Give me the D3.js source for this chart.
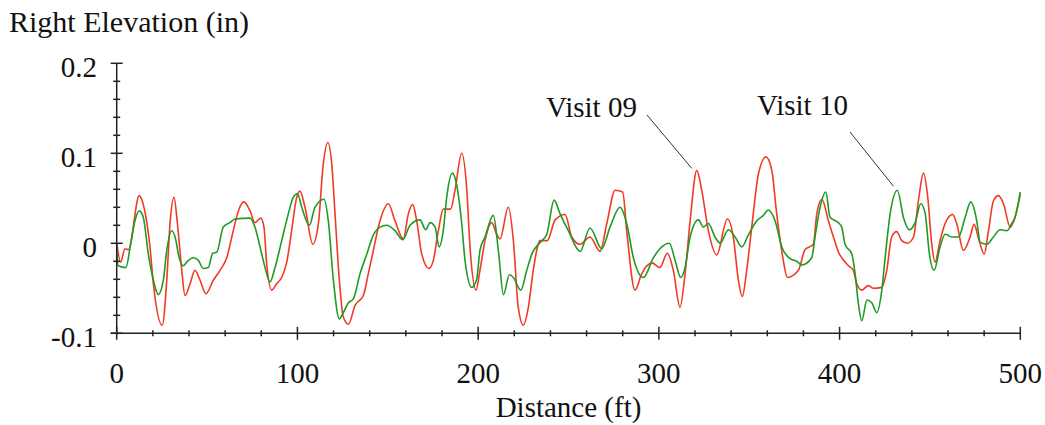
<!DOCTYPE html>
<html><head><meta charset="utf-8">
<script src="https://cdn.jsdelivr.net/npm/d3@7"></script>
<style>body{margin:0;background:#fff}svg{display:block}text{font-family:"Liberation Serif","Times New Roman",serif;fill:#111}</style>
</head><body><svg id="c" width="1045" height="425"></svg>
<script>
const xTicks = [0,100,200,300,400,500];
const yTicks = [-0.1,0,0.1,0.2];
const yTickLabels = ["-0.1","0","0.1","0.2"];
const seriesNames = ["Visit 09","Visit 10"];

const visit09Dist = [0,2.2,4.6,6.5,12.5,14.3,18.4,20.3,25.2,27.7,29.5,31.7,33.6,36,37.8,40.6,43.3,46.1,49.4,53.5,57.2,60.9,64.5,67.3,70.4,73.8,76.5,79.7,81.5,83,85.8,88.5,91.3,94.1,96.8,99.6,101.4,104.2,108.5,111.6,114.3,116.8,119,120.8,123.2,125.4,128.2,131.9,136.5,139.2,142,145.7,150.3,154,158.6,161.4,163.8,166,168.8,172.8,175.2,178,180.7,184.8,187.2,190.9,193.7,195.5,198.8,201,203.8,207.5,210.3,212.1,216.7,219.5,222.2,225,227.8,230.5,234.3,238.3,242.6,248.1,251.8,256.4,261.9,267.5,271.2,275.8,280,282.2,286.8,290.5,293.3,296.4,300.5,304.7,308,311.7,314.5,317.3,321,323.7,327.4,332,337.9,341.2,344,346.2,348.6,351.4,355.1,359.3,362.5,365.2,368.6,371.1,377.2,380.9,385.5,387.4,390.2,393.8,396.6,399.9,401.2,404.9,407.6,409.5,412.3,415.9,418.7,423.3,426.1,428.8,431.6,434.4,437.5,440.9,443.6,446.4,448.8,451,452.8,455.6,458.4,462.6,464.8,468.5,472.2,474.4,477.2,480,482.4,485.1,487.9,490.7,494.4,497.1,500];
const visit09Elev = [0.001,-0.021,-0.006,-0.007,0.053,0.046,-0.004,-0.045,-0.091,-0.041,0.022,0.051,0.022,-0.030,-0.058,-0.045,-0.030,-0.041,-0.056,-0.041,-0.030,-0.016,0.014,0.036,0.046,0.036,0.023,0.028,0.018,-0.023,-0.052,-0.045,-0.038,-0.021,0.014,0.051,0.058,0.040,-0.001,0.022,0.088,0.112,0.088,0.033,-0.041,-0.082,-0.090,-0.069,-0.058,-0.034,-0.008,0.025,0.044,0.025,0.005,0.033,0.043,0.025,-0.012,-0.028,-0.019,0.014,0.038,0.038,0.059,0.100,0.060,-0.004,-0.052,-0.030,0.003,0.023,0.010,0.005,0.040,0.003,-0.071,-0.091,-0.071,-0.030,0.003,0.003,0.026,0.032,0.007,-0.001,0.007,-0.009,0.022,0.059,0.057,0.014,-0.052,-0.034,-0.025,-0.022,-0.027,-0.011,-0.030,-0.071,-0.034,0.025,0.081,0.059,0.014,-0.013,0.027,0.007,-0.041,-0.059,-0.030,0.018,0.077,0.096,0.081,0.033,-0.016,-0.038,-0.030,-0.007,-0.001,0.033,0.049,0.025,0.007,-0.012,-0.016,-0.025,-0.030,-0.045,-0.052,-0.047,-0.050,-0.049,-0.030,0.007,0.013,0.003,0.000,0.007,0.047,0.078,0.051,-0.001,-0.021,0.003,0.022,0.032,0.022,-0.008,0.007,0.021,0.003,-0.012,0.014,0.047,0.053,0.044,0.018,0.029,0.055];

const visit10Dist = [0,0.9,5.1,7.7,10.1,12.5,14.7,17.5,20.3,23,25.8,27.7,30.4,32.8,34.1,36.9,39.1,42.4,45.2,47.9,50.7,53.1,55.3,59,62.7,65.5,73.8,76.5,79.3,82.1,84.8,87.6,91.3,95,97.7,100,102.4,106.6,109.7,114.7,117.1,119.9,123.2,125.4,128.2,130.9,134.6,138.4,142,145.7,149.4,154,158.3,162.3,167.8,171,173.4,176.2,178.4,180.7,182.6,185.7,188.2,190.9,192.8,196.5,199.2,201,203.8,208.4,211.2,214,217.3,219.5,223.6,226.9,229.7,234.3,238,242,245.3,249.9,256.4,261.9,268.4,273,278.5,282.2,285.9,291.4,297,301.6,305.8,309,312.1,314.5,317.3,321.9,324.6,327.4,331.1,333.9,338.5,342.2,345.9,349.5,354.2,357.8,360.6,364.3,368,372.6,376.3,379.1,384.6,386.4,389.2,392.4,394.7,399.3,401.2,403,406.8,408.6,410.4,412.3,415.1,417.8,420.6,423.3,425.2,428,432,435.3,438.6,441.8,444.9,447.3,449.7,452.3,455.6,458.4,462.1,465.8,469.5,472.6,475.9,477.8,481.5,485.1,488.8,492.5,495.3,497.1,500];
const visit10Elev = [-0.008,-0.025,-0.027,-0.001,0.025,0.036,0.029,-0.012,-0.041,-0.057,-0.041,-0.008,0.014,0.003,-0.012,-0.025,-0.020,-0.016,-0.019,-0.028,-0.027,-0.011,-0.010,0.018,0.023,0.027,0.028,0.018,-0.004,-0.027,-0.043,-0.027,0.003,0.033,0.051,0.055,0.040,0.020,0.040,0.049,0.025,-0.041,-0.084,-0.077,-0.066,-0.062,-0.034,-0.012,0.009,0.018,0.020,0.014,0.004,0.020,0.026,0.015,0.023,0.018,-0.004,0.014,0.051,0.078,0.064,0.022,-0.020,-0.049,-0.040,-0.008,0.007,0.031,-0.008,-0.057,-0.035,-0.038,-0.052,-0.030,-0.012,0.001,0.010,0.048,0.033,0.014,-0.009,0.017,-0.006,0.018,0.040,0.022,-0.016,-0.038,-0.016,-0.004,0.000,-0.019,-0.038,-0.027,0.007,0.026,0.018,0.022,0.007,0.000,0.015,0.007,-0.004,0.009,0.025,0.031,0.037,0.025,-0.004,-0.017,-0.020,-0.024,-0.016,0.007,0.040,0.057,0.029,0.023,0.018,-0.001,-0.012,-0.034,-0.067,-0.086,-0.063,-0.066,-0.077,-0.053,-0.016,0.033,0.059,0.029,0.015,0.023,0.044,0.034,-0.012,-0.030,-0.004,0.010,0.007,0.007,0.029,0.046,0.025,0.001,-0.001,0.007,0.015,0.014,0.022,0.029,0.057];

const svg = d3.select("#c");
const x = d3.scaleLinear().domain([0,500]).range([116.7,1020.3]);
const y = d3.scaleLinear().domain([-0.1,0.2]).range([333.3,63.3]);
const axisColor = "#222";

// curves
const line = d3.line().x(d=>x(d[0])).y(d=>y(d[1])).curve(d3.curveMonotoneX);
const s09 = visit09Dist.map((d,i)=>[d,visit09Elev[i]]);
const s10 = visit10Dist.map((d,i)=>[d,visit10Elev[i]]);
svg.append("path").datum(s09).attr("d",line).attr("fill","none").attr("stroke","#f03a24").attr("stroke-width",1.6);
svg.append("path").datum(s10).attr("d",line).attr("fill","none").attr("stroke","#1f9a24").attr("stroke-width",1.6);

// axes
const g = svg.append("g").attr("stroke",axisColor).attr("stroke-width",1.5);
g.append("line").attr("x1",x(0)).attr("x2",x(0)).attr("y1",y(0.2)).attr("y2",y(-0.1));
g.append("line").attr("x1",x(0)-6).attr("x2",x(500)).attr("y1",y(-0.1)).attr("y2",y(-0.1));
// y ticks
d3.range(-0.1,0.2001,0.02).forEach(v=>{
  const major = yTicks.some(t=>Math.abs(t-v)<1e-6);
  const h = major?6:3.5;
  g.append("line").attr("x1",x(0)-h).attr("x2",x(0)+h).attr("y1",y(v)).attr("y2",y(v));
});
// x ticks
d3.range(0,500.1,20).forEach(v=>{
  const major = xTicks.includes(Math.round(v));
  const h = major?6.5:3;
  g.append("line").attr("x1",x(v)).attr("x2",x(v)).attr("y1",y(-0.1)-h).attr("y2",y(-0.1)+h);
});

const fs = 29;
yTicks.forEach((t,i)=>{
  svg.append("text").attr("x",97).attr("y",y(t)+14).attr("text-anchor","end").attr("font-size",fs).text(yTickLabels[i]);
});
xTicks.forEach(t=>{
  svg.append("text").attr("x",x(t)).attr("y",383).attr("text-anchor","middle").attr("font-size",fs).text(t);
});
svg.append("text").attr("x",9).attr("y",32).attr("font-size",30).text("Right Elevation (in)");
svg.append("text").attr("x",(x(0)+x(500))/2).attr("y",417).attr("text-anchor","middle").attr("font-size",fs).text("Distance (ft)");

// annotations
svg.append("text").attr("x",546).attr("y",117).attr("font-size",fs).text(seriesNames[0]);
svg.append("text").attr("x",757).attr("y",115).attr("font-size",fs).text(seriesNames[1]);
svg.append("line").attr("x1",647).attr("y1",115).attr("x2",x(321)-5).attr("y2",y(0.081)-2).attr("stroke","#333").attr("stroke-width",1);
svg.append("line").attr("x1",850).attr("y1",132).attr("x2",x(432)-4).attr("y2",y(0.059)-4).attr("stroke","#333").attr("stroke-width",1);
</script></body></html>
